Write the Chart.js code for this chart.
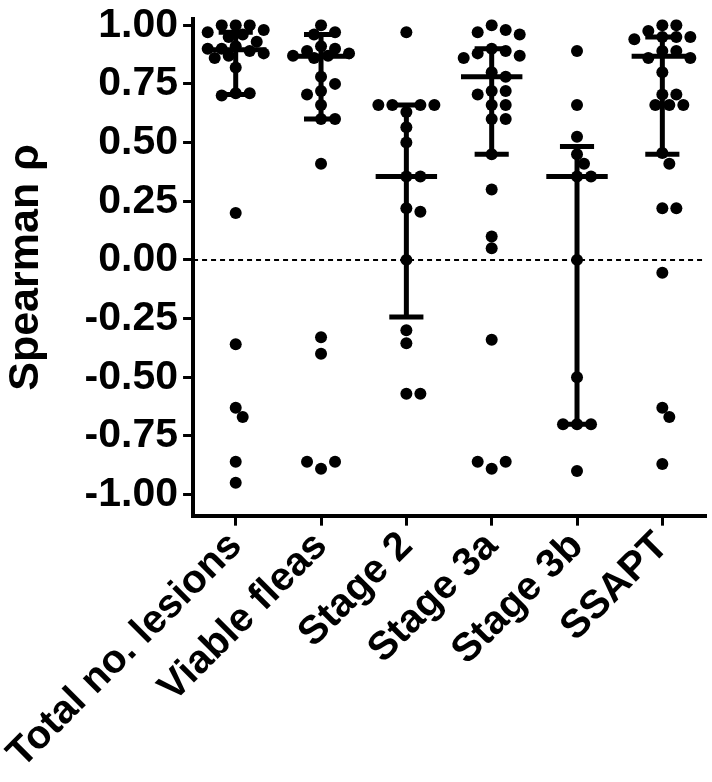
<!DOCTYPE html>
<html>
<head>
<meta charset="utf-8">
<script src="https://cdn.jsdelivr.net/npm/chart.js@4.4.0/dist/chart.umd.min.js"></script>
<style>
  html, body { margin: 0; padding: 0; background: #fff; }
  #wrap { width: 712px; height: 782px; position: relative; }
</style>
</head>
<body>
<div id="wrap"><canvas id="rhoChart"></canvas></div>
<script>
// =========================
// Data
// =========================
const categories = ['Total no. lesions', 'Viable fleas', 'Stage 2', 'Stage 3a', 'Stage 3b', 'SSAPT'];

const lesions = [1.0, 1.0, 1.0, 0.98, 0.97, 0.96, 0.95, 0.93, 0.91, 0.90, 0.90, 0.89, 0.88, 0.87, 0.86, 0.82,
  0.71, 0.71, 0.70, 0.20, -0.36, -0.63, -0.67, -0.86, -0.95];
const fleas = [1.0, 0.97, 0.96, 0.91, 0.90, 0.89, 0.88, 0.87, 0.87, 0.86, 0.78, 0.75, 0.72, 0.705, 0.66,
  0.60, 0.60, 0.41, -0.33, -0.40, -0.89, -0.86, -0.86];
const stage2 = [0.97, 0.63, 0.66, 0.66, 0.66, 0.66, 0.565, 0.50, 0.355, 0.355, 0.22, 0.205, 0.0,
  -0.30, -0.355, -0.57, -0.57];
const stage3a = [1.0, 0.98, 0.97, 0.96, 0.90, 0.89, 0.88, 0.87, 0.86, 0.80, 0.78, 0.72, 0.72, 0.705,
  0.66, 0.66, 0.60, 0.60, 0.45, 0.30, 0.10, 0.05, -0.34, -0.89, -0.86, -0.86];
const stage3b = [0.89, 0.66, 0.525, 0.45, 0.41, 0.355, 0.355, 0.0, -0.50, -0.70, -0.70, -0.70, -0.90];
const ssapt = [1.0, 1.0, 0.975, 0.95, 0.95, 0.95, 0.94, 0.89, 0.89, 0.86, 0.86, 0.80, 0.705, 0.705,
  0.66, 0.66, 0.66, 0.455, 0.41, 0.22, 0.22, -0.055, -0.63, -0.67, -0.87];

const seriesValues = [lesions, fleas, stage2, stage3a, stage3b, ssapt];

// median with interquartile range
const medians = [0.895, 0.868, 0.355, 0.78, 0.355, 0.868];
const lowerQuartiles = [0.705, 0.60, -0.243, 0.45, -0.70, 0.45];
const upperQuartiles = [0.97, 0.96, 0.66, 0.90, 0.483, 0.95];

const yTicks = [-1.0, -0.75, -0.5, -0.25, 0.0, 0.25, 0.5, 0.75, 1.0];

// =========================
// Beeswarm offsets (px -> axis units), placed in list order
// =========================
const PX_PER_X = 85.3, PX_PER_Y = 234, DOT_GAP = 11, STEP = 7, MAX_OFF = 28;

function swarm(values, catIndex) {
  const placed = [];
  const candidates = [0];
  for (let k = 1; k * STEP <= MAX_OFF; k++) candidates.push(k * STEP, -k * STEP);
  return values.map(v => {
    const py = v * PX_PER_Y;
    let best = 0, bestGap = -1;
    for (const off of candidates) {
      const gap = placed.reduce((m, p) => Math.min(m, Math.hypot(p.x - off, p.y - py)), Infinity);
      if (gap >= DOT_GAP) { best = off; break; }
      if (gap > bestGap) { bestGap = gap; best = off; }
    }
    placed.push({ x: best, y: py });
    return { x: catIndex + best / PX_PER_X, y: v };
  });
}

const dotData = seriesValues.flatMap((vals, i) => swarm(vals, i));

// median bar + IQR whiskers, gaps split by nulls
const barData = [];
categories.forEach((c, i) => {
  barData.push({ x: i - 0.36, y: medians[i] }, { x: i + 0.36, y: medians[i] }, { x: i, y: null });
  barData.push({ x: i, y: lowerQuartiles[i] }, { x: i, y: upperQuartiles[i] }, { x: i, y: null });
  barData.push({ x: i - 0.2, y: lowerQuartiles[i] }, { x: i + 0.2, y: lowerQuartiles[i] }, { x: i, y: null });
  barData.push({ x: i - 0.2, y: upperQuartiles[i] }, { x: i + 0.2, y: upperQuartiles[i] }, { x: i, y: null });
});

const fam = '"Liberation Sans", Arial, sans-serif';

new Chart(document.getElementById('rhoChart').getContext('2d'), {
  type: 'scatter',
  data: {
    datasets: [
      {
        type: 'line',
        data: [{ x: -0.5, y: 0 }, { x: 5.5, y: 0 }],
        borderColor: '#000',
        borderWidth: 2,
        borderDash: [5, 4],
        pointRadius: 0
      },
      {
        type: 'line',
        data: barData,
        borderColor: '#000',
        borderWidth: 5,
        borderCapStyle: 'butt',
        spanGaps: false,
        pointRadius: 0
      },
      {
        data: dotData,
        backgroundColor: '#000',
        borderWidth: 0,
        pointRadius: 6,
        pointHoverRadius: 6
      }
    ]
  },
  options: {
    responsive: true,
    maintainAspectRatio: false,
    animation: false,
    layout: { padding: { top: 0, right: 7, left: 0, bottom: 7 } },
    plugins: { legend: { display: false }, tooltip: { enabled: false } },
    scales: {
      x: {
        type: 'linear',
        min: -0.5,
        max: 5.5,
        afterBuildTicks: s => { s.ticks = categories.map((c, i) => ({ value: i })); },
        // let the first rotated label run to the canvas edge, like the original
        afterFit: s => { s.paddingLeft = 0; },
        ticks: {
          callback: v => categories[v],
          font: { family: fam, weight: 'bold', size: 40, lineHeight: 1.0 },
          color: '#000',
          minRotation: 45,
          maxRotation: 45,
          autoSkip: false,
          padding: 0
        },
        grid: { drawOnChartArea: false, drawTicks: true, tickLength: 10, color: '#000', lineWidth: 3 },
        border: { display: true, color: '#000', width: 4 }
      },
      y: {
        min: -1.09,
        max: 1.025,
        afterBuildTicks: s => { s.ticks = yTicks.map(v => ({ value: v })); },
        ticks: {
          callback: v => v.toFixed(2),
          font: { family: fam, weight: 'bold', size: 41, lineHeight: 0.7 },
          color: '#000',
          padding: 5
        },
        title: {
          display: true,
          text: 'Spearman ρ',
          font: { family: fam, weight: 'bold', size: 43 },
          color: '#000',
          padding: { top: 0, bottom: 28 }
        },
        grid: { drawOnChartArea: false, drawTicks: true, tickLength: 10, color: '#000', lineWidth: 3 },
        border: { display: true, color: '#000', width: 4 }
      }
    }
  }
});
</script>
</body>
</html>
